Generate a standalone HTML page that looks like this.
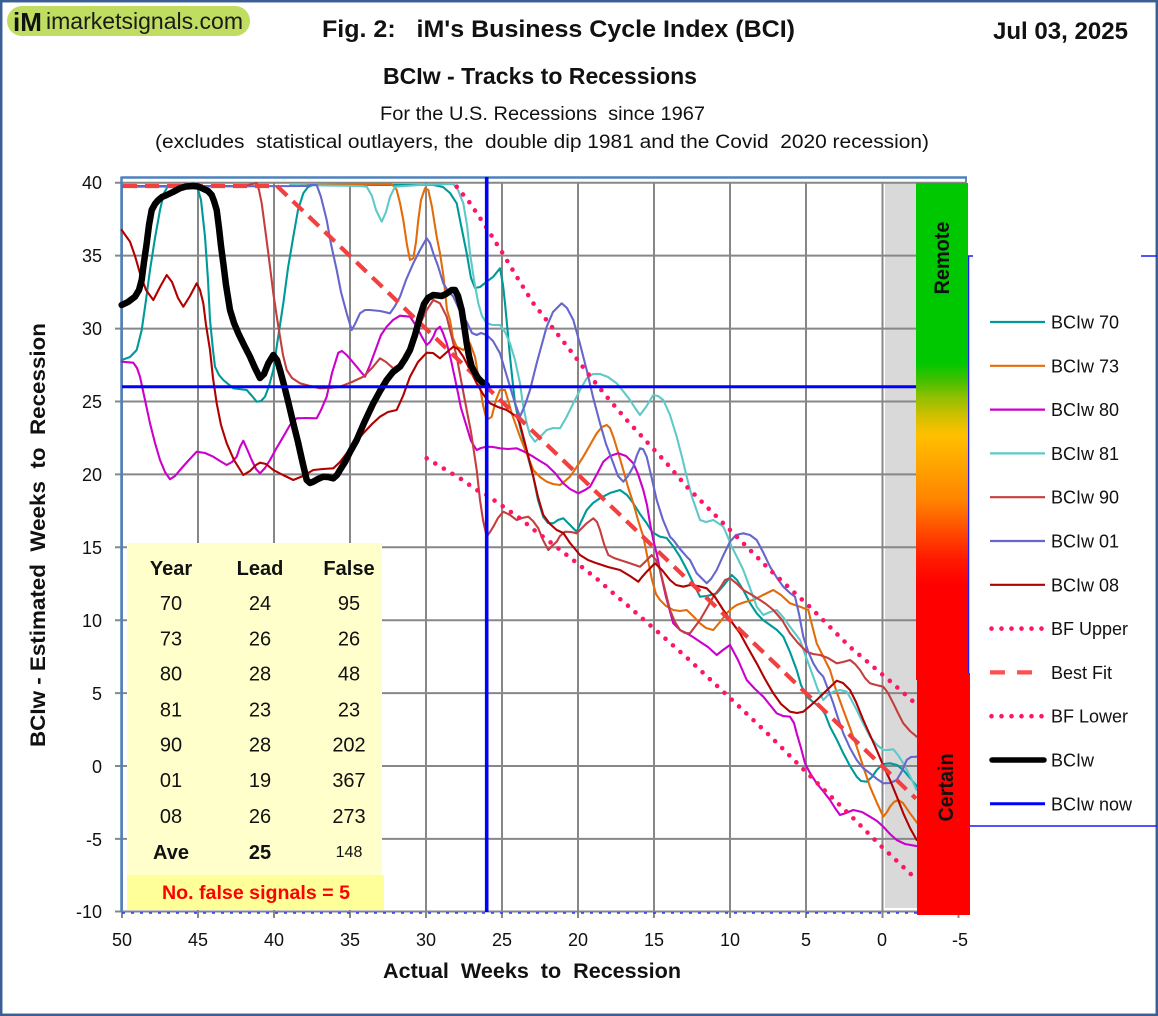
<!DOCTYPE html>
<html><head><meta charset="utf-8"><style>
html,body{margin:0;padding:0;background:#fff;}
svg{display:block;}
text{font-family:"Liberation Sans",Arial,sans-serif;}
</style></head><body>
<svg width="1158" height="1016" viewBox="0 0 1158 1016" xmlns="http://www.w3.org/2000/svg">
<defs>
<linearGradient id="gb" gradientUnits="userSpaceOnUse" x1="0" y1="183" x2="0" y2="680">
<stop offset="0" stop-color="#00c800"/>
<stop offset="0.362" stop-color="#00c800"/>
<stop offset="0.396" stop-color="#40c000"/>
<stop offset="0.431" stop-color="#90c000"/>
<stop offset="0.471" stop-color="#d4c000"/>
<stop offset="0.507" stop-color="#ffc000"/>
<stop offset="0.577" stop-color="#ffa000"/>
<stop offset="0.638" stop-color="#ff8400"/>
<stop offset="0.704" stop-color="#ff4800"/>
<stop offset="0.759" stop-color="#ff1800"/>
<stop offset="0.809" stop-color="#ff0000"/>
<stop offset="1" stop-color="#ff0000"/>
</linearGradient>
</defs>
<rect x="0" y="0" width="1158" height="1016" fill="#fff"/>
<rect x="1.2" y="1.2" width="1155.6" height="1013.6" fill="none" stroke="#3a5f94" stroke-width="2.5"/>

<!-- logo -->
<rect x="7" y="6" width="243" height="30" rx="15" fill="#bfdd60"/>
<text x="13" y="31" font-size="26" font-weight="bold" fill="#111">iM</text>
<text x="46" y="29" font-size="23" fill="#1a1a1a" textLength="197" lengthAdjust="spacingAndGlyphs">imarketsignals.com</text>

<!-- titles -->
<text x="322" y="37" font-size="24" font-weight="bold" fill="#111" style="white-space:pre" textLength="473" lengthAdjust="spacingAndGlyphs">Fig. 2:   iM's Business Cycle Index (BCI)</text>
<text x="993" y="39" font-size="24" font-weight="bold" fill="#111" textLength="135" lengthAdjust="spacingAndGlyphs">Jul 03, 2025</text>
<text x="383" y="84" font-size="23" font-weight="bold" fill="#111" textLength="314" lengthAdjust="spacingAndGlyphs">BCIw - Tracks to Recessions</text>
<text x="380" y="120" font-size="19" fill="#111" style="white-space:pre" textLength="325" lengthAdjust="spacingAndGlyphs">For the U.S. Recessions  since 1967</text>
<text x="155" y="148" font-size="19" fill="#111" style="white-space:pre" textLength="774" lengthAdjust="spacingAndGlyphs">(excludes  statistical outlayers, the  double dip 1981 and the Covid  2020 recession)</text>

<!-- gray region -->
<rect x="885" y="183" width="32" height="725" fill="#d9d9d9"/>

<!-- gridlines -->
<g stroke="#878787" stroke-width="2" fill="none">
<line x1="115" y1="182.7" x2="966" y2="182.7"/>
<line x1="115" y1="255.6" x2="966" y2="255.6"/>
<line x1="115" y1="328.6" x2="966" y2="328.6"/>
<line x1="115" y1="401.5" x2="966" y2="401.5"/>
<line x1="115" y1="474.4" x2="966" y2="474.4"/>
<line x1="115" y1="547.3" x2="966" y2="547.3"/>
<line x1="115" y1="620.2" x2="966" y2="620.2"/>
<line x1="115" y1="693.1" x2="966" y2="693.1"/>
<line x1="115" y1="766" x2="966" y2="766"/>
<line x1="115" y1="838.9" x2="966" y2="838.9"/>
<line x1="115" y1="911.5" x2="966" y2="911.5"/>
<line x1="198" y1="182" x2="198" y2="918"/>
<line x1="274" y1="182" x2="274" y2="918"/>
<line x1="350" y1="182" x2="350" y2="918"/>
<line x1="426" y1="182" x2="426" y2="918"/>
<line x1="502" y1="182" x2="502" y2="918"/>
<line x1="578" y1="182" x2="578" y2="918"/>
<line x1="654" y1="182" x2="654" y2="918"/>
<line x1="730" y1="182" x2="730" y2="918"/>
<line x1="806" y1="182" x2="806" y2="918"/>
<line x1="882.5" y1="182" x2="882.5" y2="918"/>
<line x1="958.5" y1="182" x2="958.5" y2="918"/>
<line x1="122" y1="182" x2="122" y2="918"/>
<line x1="966" y1="177" x2="966" y2="183"/>
</g>
<line x1="122" y1="913" x2="966" y2="913" stroke="#2a3cff" stroke-width="1.4" stroke-dasharray="3 6"/>
<!-- plot border -->
<line x1="121.5" y1="177.5" x2="967" y2="177.5" stroke="#4f81bd" stroke-width="2.5"/>
<line x1="121.5" y1="176.5" x2="121.5" y2="912" stroke="#4f81bd" stroke-width="2.5"/>

<!-- series -->
<g fill="none" stroke-width="2.1" stroke-linejoin="round" stroke-linecap="round">
<polyline stroke="#009999" points="121.7,360 130,357 136.7,350 141.7,330 146,300 150,270 155,238 160,210 164,193 168,186 175,185 196.7,185 201,200 205,236.7 208,280 210,320 213,350 215,366.7 219,375 223.3,380 233.3,388.3 246.7,390 252,396 256.7,401.7 261,401 265,396.7 269,386 273.3,370 278,338 283.3,303.3 288,268 293.3,236.7 298,210 303.3,193.3 308,187 313.3,185 433.3,185 443,187 450,193 456.7,203.3 461,225 466.7,253.3 471,278 475,288 480,287 486.7,281.7 493.3,276.7 500,268.3 503,285 505,303.3 508,335 510,356.7 513,385 515,403.3 520,426.7 526,450 533.3,476.7 538,500 543.3,517 548,523 553.3,523.3 558,520 563.3,518.3 570,525 576.7,531.7 581,522 586.7,510 593,503 600,498.3 610,493 620,490 627,495 633.3,503.3 640,514 646.7,523.3 652,532 660,536.7 666.7,538 673,546 680,556.7 687,570 693.3,583.3 700,596.7 707,596 716.7,593.3 724,585 731.7,575 737,580 743.3,590 750,603 756.7,613.3 763,620 770,625 777,630 783.3,636.7 790,652 796.7,670 801,685 806.7,696.7 813,702 820,706.7 825,714 830,726.7 837,740 843.3,753.3 850,766 856.7,776.7 861,781 866.7,781.7 872,777 876.7,770 883,764 890,763.3 897,765 903.3,770 910,778 920,790"/>
<polyline stroke="#e36c0a" points="300,185 390,184 394,186 396.7,190 400,203 403.3,220 407,245 410,260 413.3,258.3 416,242 418.3,220 421,200 425,188.3 428.3,190 432,207 436.7,236.7 440,253.3 443.3,275 447,310 450,320 453,338 456.7,346.7 463.3,350 470,343.3 475,356.7 480,386.7 483,405 486.7,420 491.7,416.7 496,400 500,390 505,390 508,400 511.7,413.3 520,436.7 526,452 533.3,470 540,477 546.7,481.7 553,484 560,485 565,481 570,476.7 576,468 583.3,456.7 590,445 596.7,433.3 602,427 606.7,425 610,428 613.3,436.7 618,452 623.3,470 628,487 633.3,503.3 638,520 643.3,536.7 648,560 652,580 656,594 660,600 666,606 673.3,610 680,611 686.7,610 693,616 700,623.3 706,628 713.3,630 720,622 726.7,613.3 731,609 736.7,605 745,602 753.3,600 763,595 773.3,590 781,595 790,603.3 800,606.7 808.3,610 812,625 816.7,643.3 823,656 830,670 836,690 843.3,710 850,728 856.7,746.7 863,766 870,786.7 877,803 883.3,816.7 887,812 890,806.7 894,802 898.3,800 903,803 910,813.3 920,826.7"/>
<polyline stroke="#cc00cc" points="121.7,361.7 133.3,362.7 137,368 140,376.7 145,400 150,423.3 155,443 160,460 165,472 170,479.3 175,476 180,470 188,461 196.7,451.7 205,453 213.3,456.7 220,461 226.7,465 232,462 236.7,456.7 240,447 243.3,440.7 247,449 251.7,460 256,469 260,473.3 265,468 270,460 276,449 283.3,436.7 290,425 296.7,418.3 306,418 316.7,418.3 321,410 326.7,396.7 332,373 338.3,352.7 342,351 346.7,355 351,360 356.7,366.7 361,372 365,376.7 370,365 376.7,346.7 381,335 386.7,326.7 393,320 400,315.7 410,316.7 416.7,326.7 422,337 426.7,345 430,342 433.3,336.7 436,330 440,326.7 443,333 446.7,343.3 451,360 456.7,386.7 461,408 466.7,426.7 471,441 476.7,450 481,448 486.7,446.7 493,447 500,448.3 508,449 516.7,448.3 525,452 533.3,456.7 540,461 546.7,465 555,473 563.3,483.3 570,489 578.3,493.3 585,490 590,486.7 597,474 603.3,461.7 610,456 618.3,453.3 626,456 633.3,463.3 638,474 643.3,490 647,505 650,523.3 653.3,540 657,555 660,570 666,597 673.3,623.3 680,630 686.7,633.3 693,637 700,641.7 708,647 716.7,655 723,650 730,645 738,660 746.7,680 755,689 763.3,696.7 770,705 776.7,713.3 783,716 790,716.7 794,723 796.7,733.3 801,748 805,763.3 810,773 816.7,783.3 823,791 830,800 835,808 840,815 846,813 853.3,810 862,812 870,816.7 877,821 883.3,826.7 890,834 896.7,840 905,844 920,846.7"/>
<polyline stroke="#5fc9c9" points="290,185 360,186 366.7,186.7 372,196 376,210 381.7,221.7 386,212 390,197 395,186.7 420,185 453.3,184 458,190 463.3,203.3 467,225 470,253.3 474,280 478.3,303.3 482,316 486.7,323.3 493,325 500,325 505,332 510,343.3 515,360 520,383.3 523,405 526.7,423.3 530,435 535,441.7 540,437 546.7,430 553,428 560,428.3 566,418 573.3,403.3 580,390 586.7,378.3 593,374 600,374 608,377 616.7,383.3 623,391 630,400 635,408 640,415 646,407 653.3,395 658,396 663.3,400 670,415 676.7,436.7 682,457 686.7,476.7 692,497 700,520 706,522 713.3,520 718,523 723.3,526.7 727,535 731.7,546.7 737,557 743.3,570 750,588 756.7,606.7 763.3,615 770,612 776.7,610 783,617 790,626.7 800,640 806,657 813.3,676.7 818,690 823.3,700 828,695 833.3,691.7 840,690 846.7,691.7 851,699 856.7,710 863,723 870,736.7 877,745 883.3,750 888,750 893.3,749.3 898,755 903.3,763.3 910,776 916.7,790"/>
<polyline stroke="#c43e3e" points="122,186 240,186 248,185 256.7,183 259,190 261.7,203.3 265,228 268.3,253.3 273.3,293.3 277,318 280,336.7 283,355 286.7,370 292,378 300,383.3 310,386 320,388.3 330,388 340,386.7 352,382 363.3,376.7 372,368 380,358.3 386,362 393.3,368.3 400,364 406.7,356.7 413,342 420,324 426.7,310 433.3,300 440,303.3 446.7,316.7 451,334 456.7,356.7 461,380 466.7,410 471,432 476.7,470 480,500 483,520 486.7,536.7 490,532 493.3,526.7 498,518 503.3,511.7 510,515 516.7,520 522,518 528.3,516.7 533,521 538.3,528.3 543,540 548.3,550 552,546 556.7,541.7 560,536 565,531.7 571,532 576.7,533.3 582,528 586.7,523.3 593.3,518.3 597,522 600,530 604,544 608.3,555 614,558 620,560 630,563.3 640,566.7 646,561 651.7,555 656,560 660,570 665,590 670,610 675,622 680,630 685,633 690,633.3 700,620 707,608 713.3,596.7 720,588 725,580 730,578.3 736,583 743.3,590 752,595 760,600 766,604 773.3,610 782,620 790,633.3 798,643 806.7,651.7 813,654 820,655 828,658 836.7,663.3 843,662 850,660 855,664 860,670 865,678 870,683.3 876,685 883.3,686.7 888,693 893.3,703.3 898,713 903.3,723.3 910,731 916.7,736.7"/>
<polyline stroke="#6666cc" points="122,186.7 306.7,186 311,185 316.7,185 321,197 326.7,220 331,244 336.7,270 341,292 346.7,313.3 351.7,330 355,324 360,313.3 365,310 370,310 380,311 390,313.3 395,306 400,296.7 406,280 413.3,263.3 420,250 426.7,238.3 430,243 433.3,253.3 438,266 443.3,283.3 448,291 453.3,296.7 460,311 466.7,322 472,333 476.7,335 481,333 486.7,335 493,341 500,353.3 505,370 510,386.7 515,403 520,416.7 525,405 530,390 537,362 546.7,326.7 553,312 561.7,303.3 567,308 573.3,320 580,344 586.7,370 593,397 600,423.3 606,444 613.3,463.3 618,476 623.3,481.7 628,476 633.3,466.7 637,455 640,448.3 643,449 646.7,456.7 651,475 656.7,500 663,520 670,536.7 673.3,540 680,549 686.7,556.7 690,560 696.7,573.3 706.7,583.3 711,579 716.7,570 723,556 730,541.7 736,535 743.3,533.3 750,535 756.7,540 763,552 770,566.7 777,578 783.3,586.7 790,593 795,596.7 799,614 803.3,636.7 808,651 813.3,663.3 818,671 823.3,676.7 828,689 833.3,703.3 838,718 843.3,733.3 850,748 856.7,760 863,768 870,773.3 877,779 883.3,783.3 890,783 896.7,780 902,771 906.7,760 911,757 916.7,756.7"/>
<polyline stroke="#b00000" points="121.7,230 130,241.7 135,256 140,273.3 146,290 153.3,300 160,287 166.7,275 172,282 178,298 183.3,306.7 190,296 196.7,283.3 200,290 203.3,303.3 206,325 210,350 213,378 216.7,403.3 221,425 226.7,443.3 234,460 243.3,475 250,471 256,465 260,462.7 266,464 273.3,470 283,475 293.3,480 303,476 313.3,470 323,469 333.3,468.3 340,462 346.7,453.3 355,443 363.3,433.3 372,424 380,416.7 388,412 396.7,410 403,396 410,376.7 418,362 426.7,352.7 433,353 440,358.3 447,352 453.3,346.7 458,349 463.3,356.7 470,370 476.7,383.3 483,394 490,403.3 498,407 506.7,410 516.7,416.7 520,424 523.3,436.7 528,455 533.3,476.7 538,497 543.3,515 550,524 556.7,530 563.3,533 570,543 580,555 588,560 596.7,563.3 608,567 620,570 630,576 638.3,581.7 642,577 646.7,571.7 655,563.3 662,570 670,580 676,585 683.3,586.7 690,585 698,586 706.7,588.3 715,597 723.3,610 731,621 740,633.3 748,648 756.7,663.3 765,679 773.3,693.3 781,704 790,711.7 797,713 803.3,711.7 810,706 816.7,700 826,691 836.7,680.7 843,683 850,690 856,702 863.3,720 870,735 876.7,750 883,765 890,780 897,797 903.3,813.3 910,828 916.7,840"/>
</g>

<!-- BF upper / lower dotted -->
<g fill="none" stroke="#ff1466" stroke-width="4.6" stroke-linecap="round" stroke-dasharray="0 10">
<polyline points="456.7,186.7 470,203 486.7,228 501.7,251.7 516.7,276.7 533.3,303.3 551.7,326.7 570,350 588.3,374 606.7,396.7 626.7,420 646.7,441.7 666.7,463.3 686.7,486.7 710,510 730,530 770,570 810,607 850,647 890,681 916,704"/>
<polyline points="426.7,458.3 443.3,468.3 460,478.3 476.7,490 486.7,495 503.3,506.7 520,518.3 535,530.7 551,542.7 566.7,555 582.7,567.7 598.3,580 613.3,593.3 628.3,606 643.3,619.3 658.3,632.3 673.3,645.7 688.3,659 710,679.3 739.3,706.7 768.3,734.3 796.7,762.7 825,790.7 853.3,818.3 881.7,846.7 916,879"/>
</g>
<!-- best fit -->
<polyline fill="none" stroke="#f24040" stroke-width="4.2" stroke-dasharray="14 8" points="123,186 277,186 916,798.6"/>

<!-- BCIw black -->
<polyline fill="none" stroke="#000" stroke-width="6.5" stroke-linejoin="round" stroke-linecap="round" points="121.7,305 128,302 135,296.7 139,290 141.7,280 144,262 146.7,243.3 149,225 151.7,210 155,204 158.3,200 162,197 166.7,195 173,192 180,188.3 186,186.5 193.3,186 198,186.5 203.3,188.8 208,191 211.7,195 214,201 216.7,210 219,228 221,246 223.3,263.3 226,285 230,310 234,323 238.3,333.3 244,345 250,356.7 255,368 260,378 264,374 268.3,363.3 273.3,355 277,360 280,370 284,385 288,401 293.3,423.3 298,442 302,460 306.7,480 310,483 313.3,481.7 318,479 323.3,476.7 328,477 333.3,478.3 337,475 340,470 345,462 350,452 356.7,440 364,423 373.3,403.3 380,391 386.7,380 393,372 400,366.7 405,359 410,350 415,335 420,316.7 424,304 428,298 433.3,295 441.7,296 446,294 451.7,290 455,290 458,296 461.7,310 464,325 466.7,343.3 469,356 471.7,366.7 475,373 478.3,378.3 482,382 486.7,385"/>

<!-- BCIw now -->
<line x1="122" y1="386.7" x2="917" y2="386.7" stroke="#0000ff" stroke-width="3"/>
<line x1="486.7" y1="177" x2="486.7" y2="912" stroke="#0000ff" stroke-width="3.6"/>

<!-- table -->
<rect x="127" y="543" width="255" height="332" fill="#ffffcc"/>
<rect x="127" y="875" width="257" height="35" fill="#ffff99"/>
<g font-size="20" fill="#111" text-anchor="middle">
<text x="171" y="575" font-weight="bold">Year</text>
<text x="260" y="575" font-weight="bold">Lead</text>
<text x="349" y="575" font-weight="bold">False</text>
<text x="171" y="610">70</text><text x="260" y="610">24</text><text x="349" y="610">95</text>
<text x="171" y="645.5">73</text><text x="260" y="645.5">26</text><text x="349" y="645.5">26</text>
<text x="171" y="680.5">80</text><text x="260" y="680.5">28</text><text x="349" y="680.5">48</text>
<text x="171" y="716.5">81</text><text x="260" y="716.5">23</text><text x="349" y="716.5">23</text>
<text x="171" y="751.5">90</text><text x="260" y="751.5">28</text><text x="349" y="751.5">202</text>
<text x="171" y="787">01</text><text x="260" y="787">19</text><text x="349" y="787">367</text>
<text x="171" y="823">08</text><text x="260" y="823">26</text><text x="349" y="823">273</text>
<text x="171" y="859" font-weight="bold">Ave</text><text x="260" y="859" font-weight="bold">25</text>
<text x="349" y="857" font-size="16">148</text>
<text x="256" y="899" font-size="19" font-weight="bold" fill="#ff0000" textLength="188" lengthAdjust="spacingAndGlyphs">No. false signals = 5</text>
</g>

<!-- axis labels -->
<g font-size="18" fill="#111" text-anchor="end">
<text x="102" y="189">40</text>
<text x="102" y="262">35</text>
<text x="102" y="335">30</text>
<text x="102" y="408">25</text>
<text x="102" y="481">20</text>
<text x="102" y="554">15</text>
<text x="102" y="627">10</text>
<text x="102" y="700">5</text>
<text x="102" y="773">0</text>
<text x="102" y="846">-5</text>
<text x="102" y="918">-10</text>
</g>
<g font-size="18" fill="#111" text-anchor="middle">
<text x="122" y="946">50</text>
<text x="198" y="946">45</text>
<text x="274" y="946">40</text>
<text x="350" y="946">35</text>
<text x="426" y="946">30</text>
<text x="502" y="946">25</text>
<text x="578" y="946">20</text>
<text x="654" y="946">15</text>
<text x="730" y="946">10</text>
<text x="806" y="946">5</text>
<text x="882" y="946">0</text>
<text x="960" y="946">-5</text>
</g>
<text x="383" y="978" font-size="21" font-weight="bold" fill="#111" style="white-space:pre" textLength="298" lengthAdjust="spacingAndGlyphs">Actual  Weeks  to  Recession</text>
<text transform="translate(45,535) rotate(-90)" x="0" y="0" font-size="21" font-weight="bold" fill="#111" text-anchor="middle" style="white-space:pre" textLength="424" lengthAdjust="spacingAndGlyphs">BCIw - Estimated  Weeks  to  Recession</text>

<!-- legend box lines -->
<g stroke="#1a1aff" stroke-width="1.5">
<line x1="966" y1="256" x2="973" y2="256"/>
<line x1="1141" y1="256" x2="1157" y2="256"/>
<line x1="968.5" y1="256" x2="968.5" y2="673"/>
<line x1="970" y1="826" x2="1157" y2="826"/>
</g>

<!-- color bars -->
<rect x="916" y="183" width="52" height="497" fill="url(#gb)"/>
<rect x="917" y="673" width="53" height="242" fill="#ff0000"/>
<text transform="translate(949,258) rotate(-90)" x="0" y="0" font-size="21" font-weight="bold" fill="#111" text-anchor="middle" textLength="73" lengthAdjust="spacingAndGlyphs">Remote</text>
<text transform="translate(953,787.5) rotate(-90)" x="0" y="0" font-size="21" font-weight="bold" fill="#111" text-anchor="middle" textLength="68" lengthAdjust="spacingAndGlyphs">Certain</text>

<!-- legend -->
<g fill="none" stroke-width="2.2">
<line x1="990" y1="322" x2="1045" y2="322" stroke="#009999"/>
<line x1="990" y1="365.8" x2="1045" y2="365.8" stroke="#e36c0a"/>
<line x1="990" y1="409.6" x2="1045" y2="409.6" stroke="#cc00cc"/>
<line x1="990" y1="453.4" x2="1045" y2="453.4" stroke="#5fc9c9"/>
<line x1="990" y1="497.2" x2="1045" y2="497.2" stroke="#c43e3e"/>
<line x1="990" y1="541" x2="1045" y2="541" stroke="#6666cc"/>
<line x1="990" y1="584.8" x2="1045" y2="584.8" stroke="#b00000"/>
<line x1="991.5" y1="628.6" x2="1042" y2="628.6" stroke="#ff1466" stroke-width="4.6" stroke-linecap="round" stroke-dasharray="0 10"/>
<line x1="990" y1="672.4" x2="1033" y2="672.4" stroke="#ff5050" stroke-width="4.2" stroke-dasharray="15 12"/>
<line x1="991.5" y1="716.2" x2="1042" y2="716.2" stroke="#ff1466" stroke-width="4.6" stroke-linecap="round" stroke-dasharray="0 10"/>
<line x1="992" y1="760" x2="1044" y2="760" stroke="#000" stroke-width="5.5" stroke-linecap="round"/>
<line x1="990" y1="803.8" x2="1045" y2="803.8" stroke="#0000ff" stroke-width="3"/>
</g>
<g font-size="18" fill="#111">
<text x="1051" y="328.5">BCIw 70</text>
<text x="1051" y="372.3">BCIw 73</text>
<text x="1051" y="416.1">BCIw 80</text>
<text x="1051" y="459.9">BCIw 81</text>
<text x="1051" y="503.7">BCIw 90</text>
<text x="1051" y="547.5">BCIw 01</text>
<text x="1051" y="591.3">BCIw 08</text>
<text x="1051" y="635.1">BF Upper</text>
<text x="1051" y="678.9">Best Fit</text>
<text x="1051" y="722.7">BF Lower</text>
<text x="1051" y="766.5">BCIw</text>
<text x="1051" y="810.3">BCIw now</text>
</g>
</svg>
</body></html>
